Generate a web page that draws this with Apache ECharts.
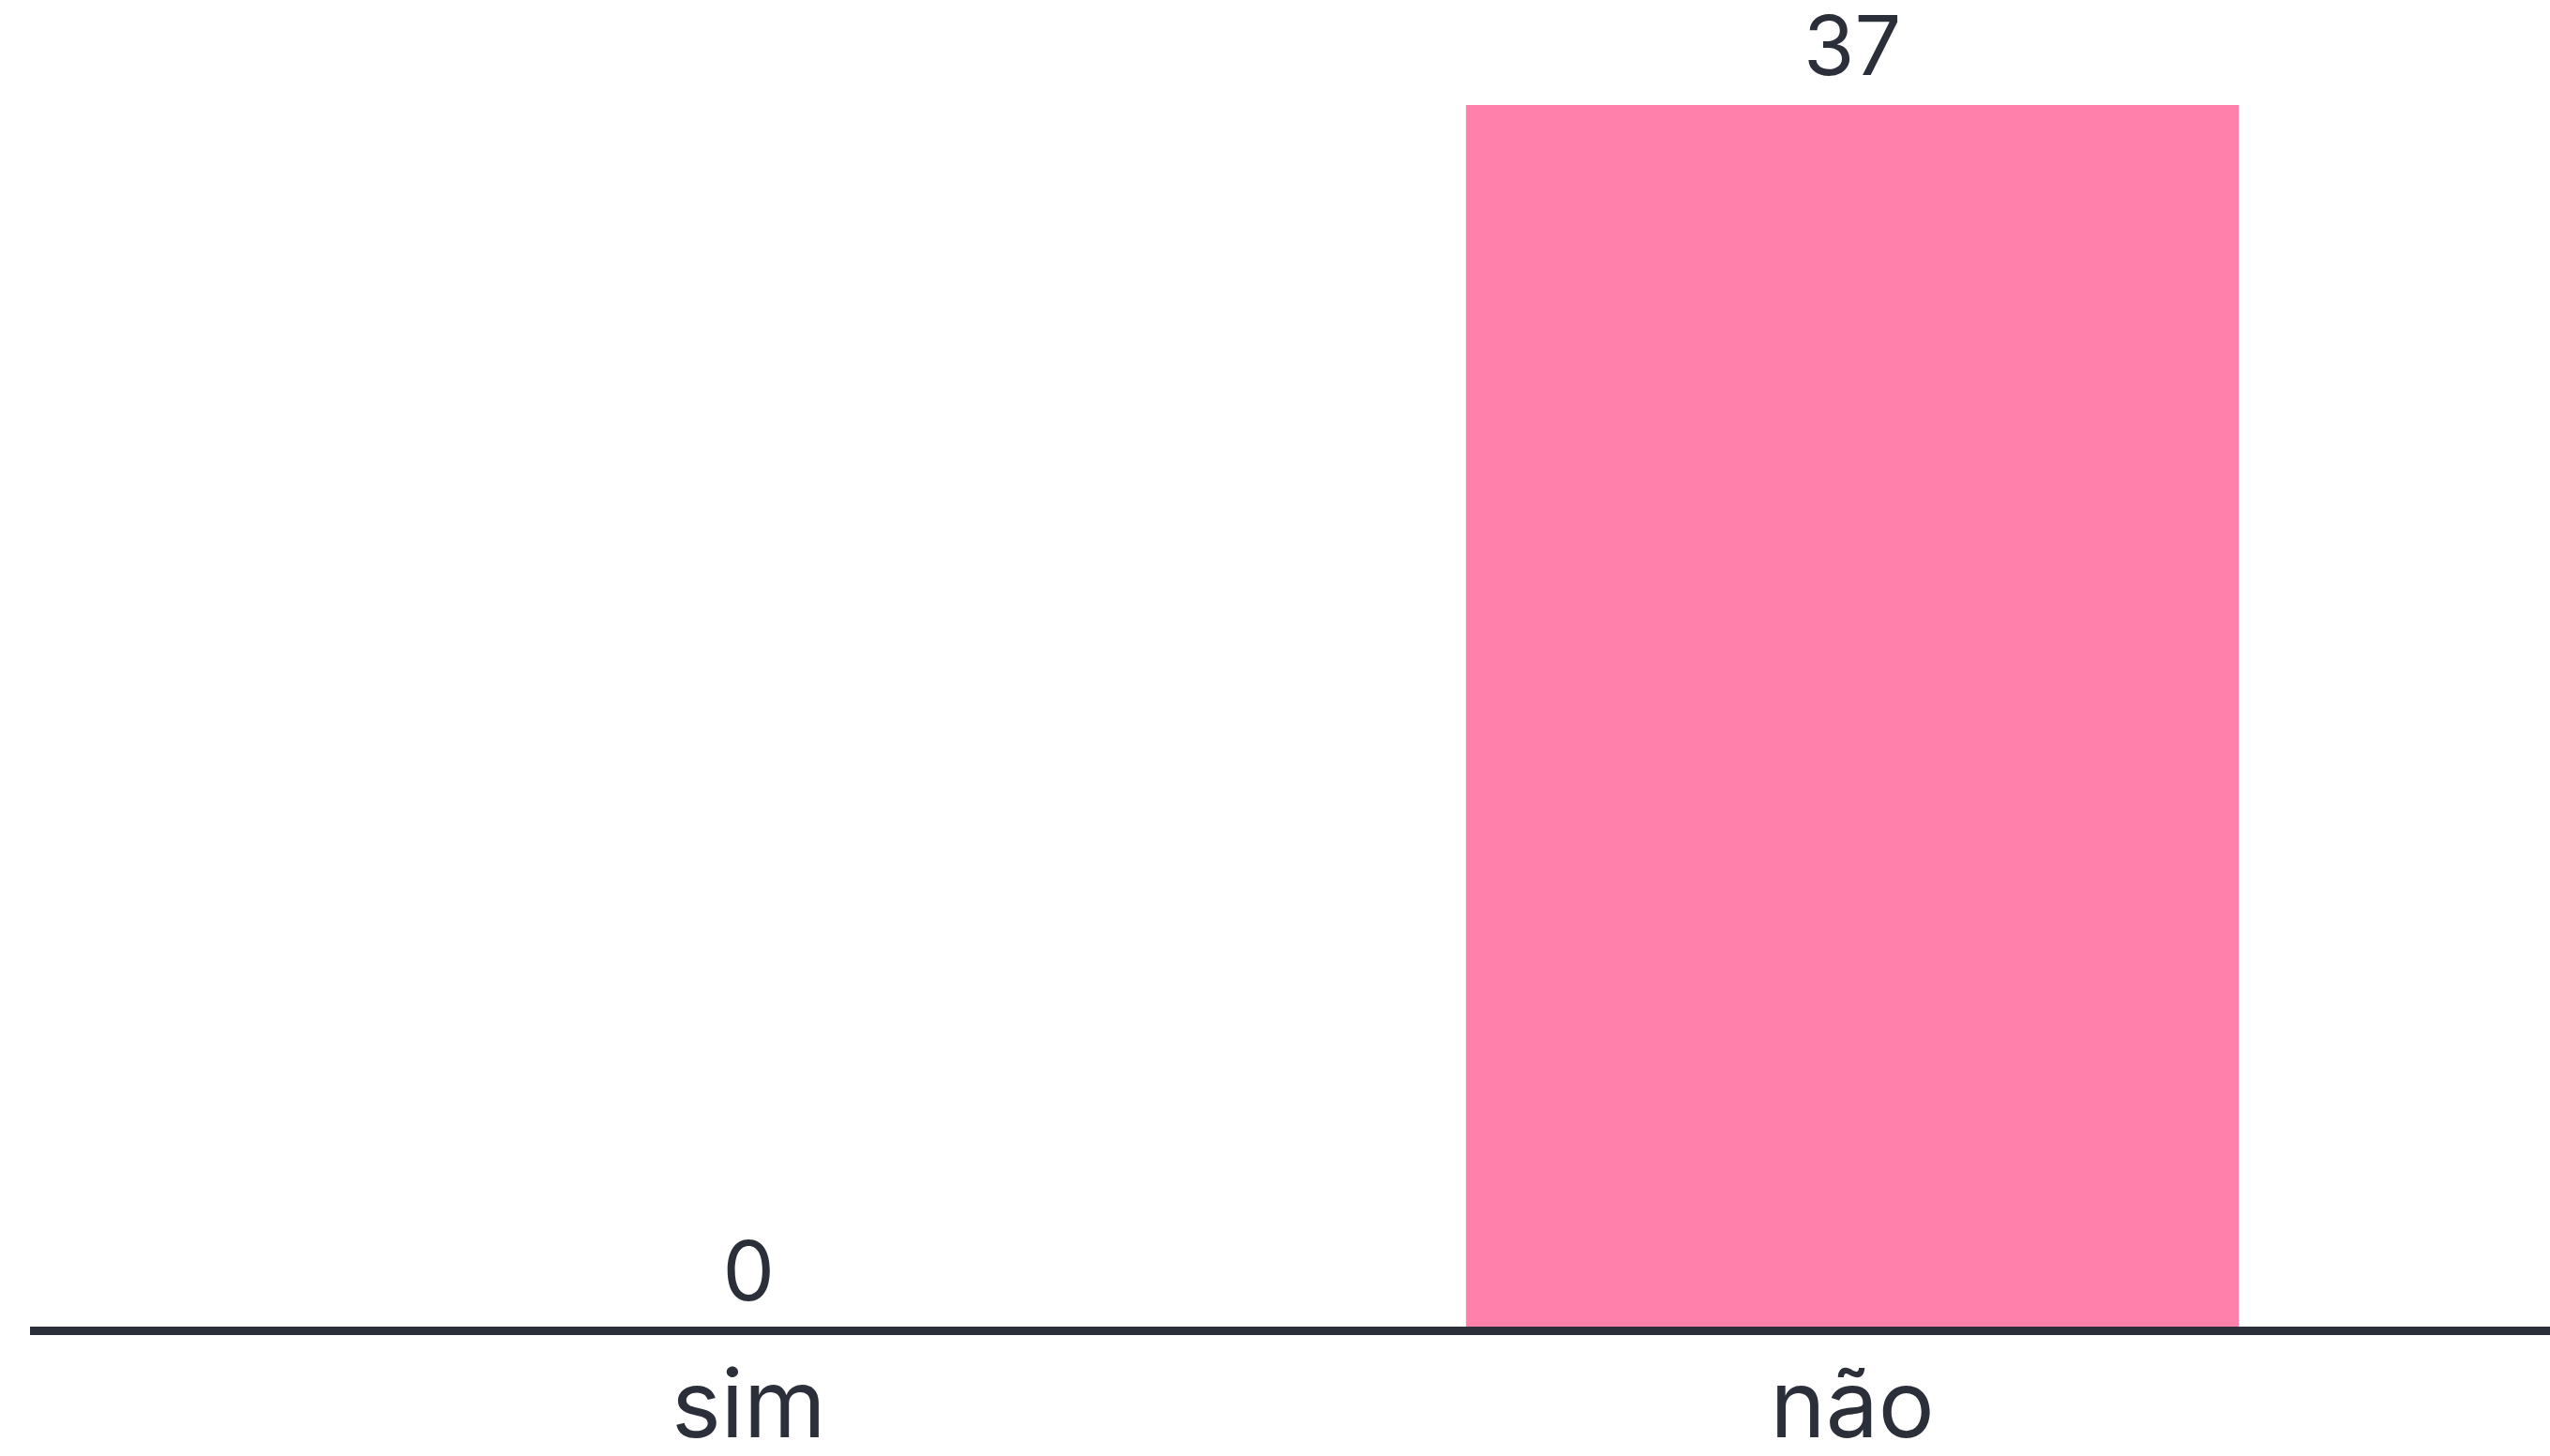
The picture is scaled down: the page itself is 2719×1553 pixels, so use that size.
<!DOCTYPE html>
<html>
<head>
<meta charset="utf-8">
<script src="https://cdn.jsdelivr.net/npm/echarts@6/dist/echarts.min.js"></script>
<style>html,body{margin:0;padding:0;background:#fff}#c{width:2719px;height:1553px}</style>
</head>
<body>
<div id="c"></div>
<script>
var categories = ['sim', 'não'];
var values = [0, 37];

var chart = echarts.init(document.getElementById('c'));
var textColor = '#2b2f3a';
chart.setOption({
  animation: false,
  backgroundColor: '#ffffff',
  grid: { left: 32, right: 0, top: 112, bottom: 124, containLabel: false },
  xAxis: {
    type: 'value',
    min: -0.651,
    max: 1.632,
    z: 10,
    splitLine: { show: false },
    axisTick: { show: false },
    axisLine: { show: true, onZero: true, lineStyle: { color: textColor, width: 9, cap: 'butt' } },
    axisLabel: {
      customValues: categories.map(function (c, i) { return i; }),
      formatter: function (v) { return categories[Math.round(v)]; },
      color: textColor,
      fontFamily: 'Inter',
      fontSize: 100,
      margin: 34
    }
  },
  yAxis: {
    type: 'value',
    min: 0,
    max: 37,
    show: false,
    splitLine: { show: false }
  },
  series: [{
    type: 'bar',
    data: categories.map(function (c, i) { return [i, values[i]]; }),
    barWidth: 824,
    itemStyle: { color: '#FF80AB' },
    label: {
      show: true,
      position: 'top',
      distance: 14,
      color: textColor,
      fontFamily: 'Inter',
      fontSize: 88
    }
  }]
});
</script>
</body>
</html>
